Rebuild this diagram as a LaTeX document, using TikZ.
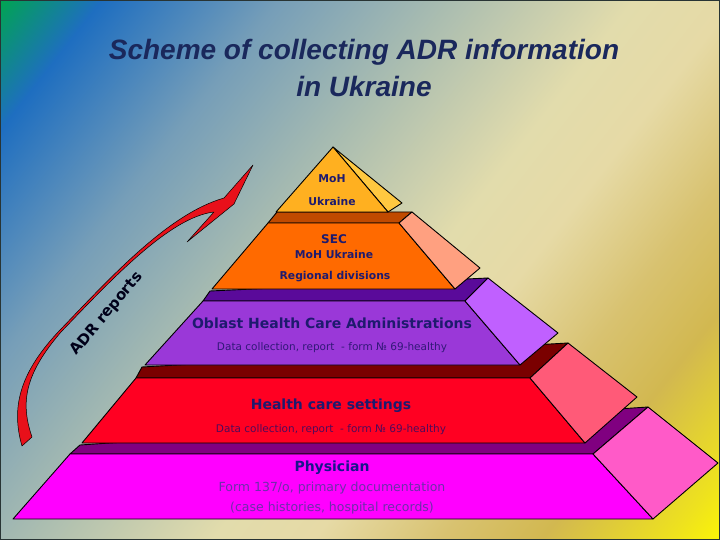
\documentclass[tikz,border=0pt]{standalone}
\usepackage{fontspec}
\setmainfont{DejaVu Sans}
\newfontfamily\titlefont{Liberation Sans}
\usetikzlibrary{positioning}
\definecolor{bggreen}{RGB}{0, 165, 80}
\definecolor{bgblue}{RGB}{30, 110, 192}
\definecolor{bgsteel}{RGB}{118, 158, 184}
\definecolor{bggrey}{RGB}{172, 190, 176}
\definecolor{bgbeige}{RGB}{226, 220, 172}
\definecolor{bgcream}{RGB}{230, 218, 166}
\definecolor{bgsand}{RGB}{216, 194, 112}
\definecolor{bggold}{RGB}{210, 184, 80}
\definecolor{bgyellow}{RGB}{238, 226, 30}
\definecolor{bglemon}{RGB}{255, 250, 0}
\definecolor{framegrey}{RGB}{40, 52, 52}
\definecolor{titlenavy}{RGB}{26, 40, 92}
\definecolor{labelnavy}{RGB}{30, 26, 110}
\definecolor{physfront}{RGB}{255, 0, 255}
\definecolor{physband}{RGB}{128, 0, 128}
\definecolor{physside}{RGB}{255, 90, 200}
\definecolor{hcsfront}{RGB}{255, 0, 34}
\definecolor{hcsband}{RGB}{122, 0, 0}
\definecolor{hcsside}{RGB}{255, 90, 120}
\definecolor{obfront}{RGB}{154, 56, 216}
\definecolor{obband}{RGB}{90, 10, 154}
\definecolor{obside}{RGB}{192, 96, 255}
\definecolor{secfront}{RGB}{255, 106, 0}
\definecolor{secband}{RGB}{192, 74, 0}
\definecolor{secside}{RGB}{255, 160, 128}
\definecolor{mohfront}{RGB}{255, 176, 32}
\definecolor{mohside}{RGB}{255, 200, 64}
\definecolor{arrowred}{RGB}{232, 16, 26}
\definecolor{obtext}{RGB}{50, 24, 120}
\definecolor{hcstext}{RGB}{80, 10, 90}
\definecolor{phystext}{RGB}{110, 46, 170}
\pgfdeclarehorizontalshading{bgshade}{100bp}{color(0bp)=(bggreen); color(25.5bp)=(bggreen);
  color(29.9bp)=(bgblue); color(37.5bp)=(bgsteel); color(45.1bp)=(bggrey); color(52.7bp)=(bgbeige);
  color(57bp)=(bgcream); color(62.5bp)=(bgsand); color(66.8bp)=(bggold); color(72.3bp)=(bgyellow);
  color(75bp)=(bglemon); color(100bp)=(bglemon)}

\begin{document}
\begin{tikzpicture}[x=1pt, y=-1pt,
    layer/.style={draw=black, line width=0.9pt, line join=round},
    boldlabel/.style={text=labelnavy, font=\bfseries\fontsize{14}{16}\selectfont, inner sep=0pt},
    toplabel/.style={text=labelnavy, font=\bfseries\fontsize{10.8}{12}\selectfont, inner sep=0pt},
    smalllabel/.style={font=\fontsize{10.5}{12}\selectfont, inner sep=0pt},
    heading/.style={text=titlenavy, font=\titlefont\bfseries\itshape\fontsize{28}{32}\selectfont}]
    \useasboundingbox (0,0) rectangle (720,540);
    \begin{scope}
        \clip (0,0) rectangle (720,540);
        \begin{scope}[transform canvas={rotate=-38}]
            \shade[shading=bgshade] (-10,-450) rectangle (910,430);
        \end{scope}
    \end{scope}
    \draw[framegrey, line width=1.5pt] (0,0) rectangle (720,540);

    \node[heading] (title1) at (364,52) {Scheme of collecting ADR information};
    \node[heading] (title2) at (364,86) {in Ukraine};

    \filldraw[layer, fill=physband] (70,454) -- (80,445) -- (648,407) -- (593,454) -- cycle;
    \filldraw[layer, fill=physfront] (70,454) -- (593,454) -- (653,519) -- (13,519) -- cycle;
    \filldraw[layer, fill=physside] (593,454) -- (648,407) -- (718,463) -- (653,519) -- cycle;

    \filldraw[layer, fill=hcsband] (136,378) -- (142,367) -- (568,343) -- (530,378) -- cycle;
    \filldraw[layer, fill=hcsfront] (136,378) -- (530,378) -- (585,443) -- (82,443) -- cycle;
    \filldraw[layer, fill=hcsside] (530,378) -- (568,343) -- (637,397) -- (585,443) -- cycle;

    \filldraw[layer, fill=obband] (203,301) -- (210,291) -- (488,278) -- (465,301) -- cycle;
    \filldraw[layer, fill=obfront] (203,301) -- (465,301) -- (520,365) -- (145,365) -- cycle;
    \filldraw[layer, fill=obside] (465,301) -- (488,278) -- (558,333) -- (520,365) -- cycle;

    \filldraw[layer, fill=secband] (268,223) -- (277,212) -- (412,212) -- (399,223) -- cycle;
    \filldraw[layer, fill=secfront] (268,223) -- (399,223) -- (455,289) -- (212,289) -- cycle;
    \filldraw[layer, fill=secside] (399,223) -- (412,212) -- (480,268) -- (455,289) -- cycle;

    \filldraw[layer, fill=mohside] (333,147) -- (402,203) -- (388,212) -- cycle;
    \filldraw[layer, fill=mohfront] (333,147) -- (388,212) -- (276,212) -- cycle;

    \filldraw[draw=black, line width=0.5pt, fill=arrowred, line join=round]
        (22,446) .. controls (10,405) and (22,370) .. (60,330)
        .. controls (110,278) and (168,214) .. (224,198)
        -- (253,165) -- (234,204) -- (187,242) -- (214,212)
        .. controls (170,217) and (112,279) .. (61,332)
        .. controls (25,374) and (20,402) .. (32,437) -- cycle;
    \node[text=black!90!blue, font=\bfseries\fontsize{15}{17}\selectfont, rotate=50] (adr) at (107,314) {ADR reports};

    \node[toplabel] (moh) at (332,179) {MoH};
    \node[toplabel] (mohukr) at (332,201) {Ukraine};

    \node[toplabel, font=\bfseries\fontsize{12}{14}\selectfont] (sec) at (334,239) {SEC};
    \node[toplabel] (secmoh) at (334,254) {MoH Ukraine};
    \node[toplabel] (secreg) at (335,277) {Regional divisions};

    \node[boldlabel] (oblast) at (332,323) {Oblast Health Care Administrations};
    \node[smalllabel, text=obtext] (oblastdata) at (332,348) {Data collection, report \ - form № 69-healthy};

    \node[boldlabel] (hcs) at (331,406) {Health care settings};
    \node[smalllabel, text=hcstext] (hcsdata) at (331,430) {Data collection, report \ - form № 69-healthy};

    \node[boldlabel, text=labelnavy!80!blue] (phys) at (332,468) {Physician};
    \node[smalllabel, text=phystext, font=\fontsize{12.5}{14}\selectfont] (physform) at (332,488) {Form 137/o, primary documentation};
    \node[smalllabel, text=phystext, font=\fontsize{12.5}{14}\selectfont] (physcase) at (332,508) {(case histories, hospital records)};
\end{tikzpicture}
\end{document}
